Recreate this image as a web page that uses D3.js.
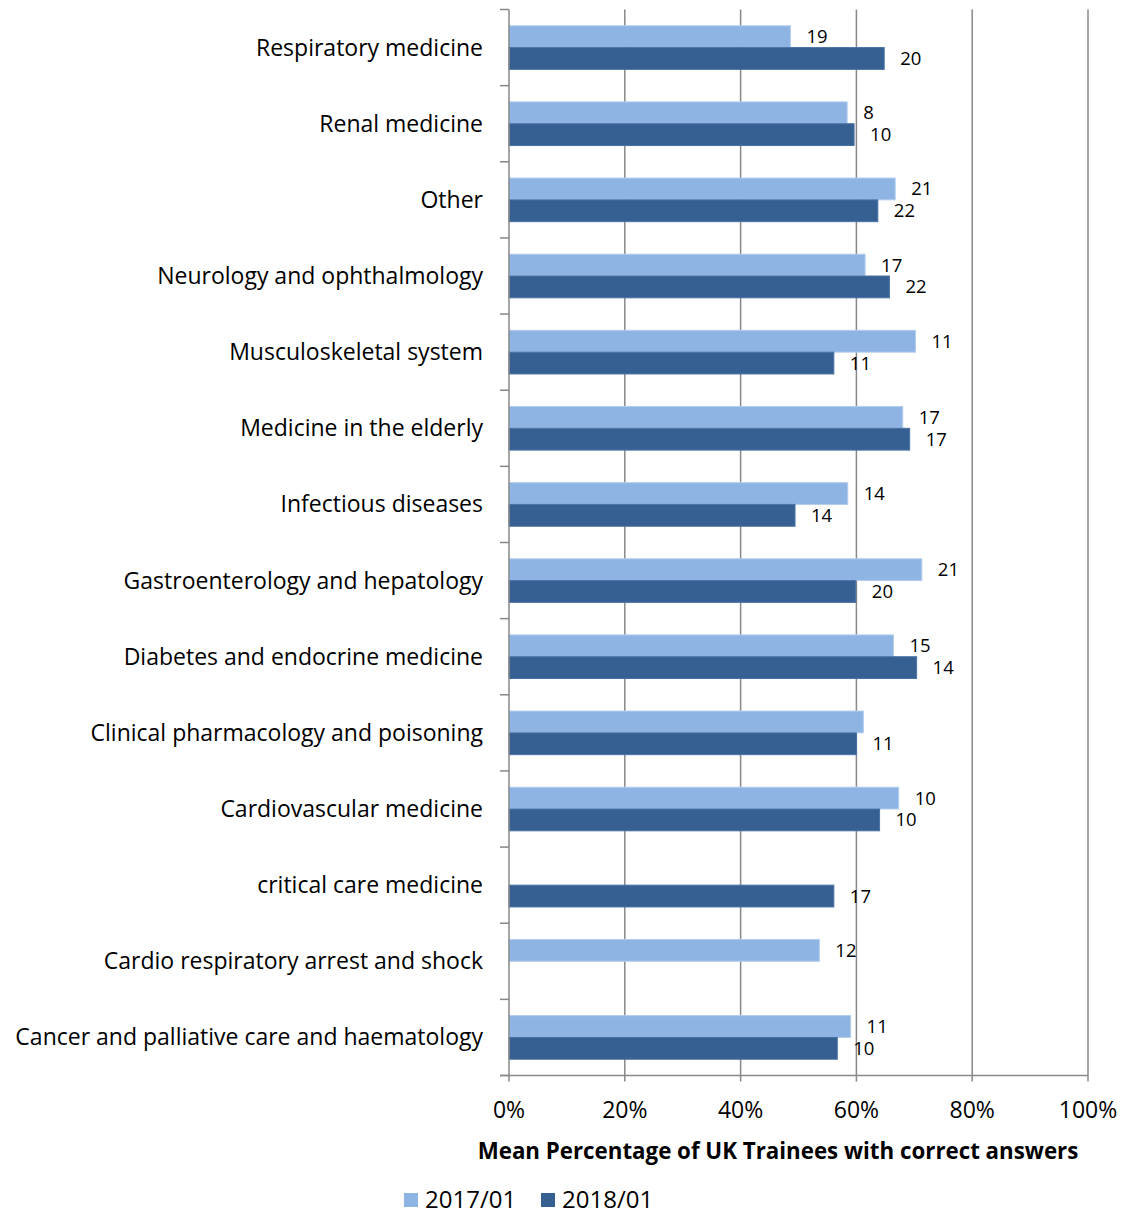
<!DOCTYPE html>
<html>
<head>
<meta charset="utf-8">
<script src="https://cdn.jsdelivr.net/npm/d3@7"></script>
<style>
  body { margin: 0; background: #fff; }
  text { font-family: "Open Sans", sans-serif; fill: #000; }
</style>
</head>
<body>
<div id="chart"></div>
<script>
// categories, top to bottom
var categories = [
    "Respiratory medicine",
    "Renal medicine",
    "Other",
    "Neurology and ophthalmology",
    "Musculoskeletal system",
    "Medicine in the elderly",
    "Infectious diseases",
    "Gastroenterology and hepatology",
    "Diabetes and endocrine medicine",
    "Clinical pharmacology and poisoning",
    "Cardiovascular medicine",
    "critical care medicine",
    "Cardio respiratory arrest and shock",
    "Cancer and palliative care and haematology"
];
var seriesNames = ["2017/01", "2018/01"];
var values2017 = [48.6, 58.4, 66.7, 61.5, 70.2, 68.0, 58.5, 71.3, 66.4, 61.2, 67.3, null, 53.6, 59.0];
var values2018 = [64.8, 59.6, 63.7, 65.7, 56.1, 69.2, 49.4, 59.9, 70.4, 60.0, 64.0, 56.1, null, 56.7];
var labels2017 = [19, 8, 21, 17, 11, 17, 14, 21, 15, null, 10, null, 12, 11];
var labels2018 = [20, 10, 22, 22, 11, 17, 14, 20, 14, 11, 10, 17, null, 10];
var xTicks = [0, 20, 40, 60, 80, 100];
var colors = ["#8EB4E3", "#376092"];

(function () {
    var W = 1128, H = 1217;
    var left = 509, right = 1088, top = 9.5, bottom = 1075.5;

    var svg = d3.select("#chart").append("svg")
        .attr("width", W)
        .attr("height", H);

    var x = d3.scaleLinear().domain([0, 100]).range([left, right]);
    var y = d3.scaleBand().domain(categories).range([top, bottom])
        .paddingInner(0.427).paddingOuter(0.2135);
    var ySub = d3.scaleBand().domain([0, 1]).range([0, y.bandwidth()]);

    // gridlines
    svg.append("g").selectAll("line")
        .data(xTicks.slice(1))
        .join("line")
        .attr("x1", function (d) { return x(d); })
        .attr("x2", function (d) { return x(d); })
        .attr("y1", top)
        .attr("y2", bottom)
        .attr("stroke", "#888")
        .attr("stroke-width", 1.5);

    var rows = categories.map(function (c, i) {
        return [
            { cat: c, s: 0, v: values2017[i], lab: labels2017[i] },
            { cat: c, s: 1, v: values2018[i], lab: labels2018[i] }
        ];
    });
    var items = d3.merge(rows).filter(function (d) { return d.v != null; });

    svg.append("g").selectAll("rect")
        .data(items)
        .join("rect")
        .attr("x", x(0))
        .attr("y", function (d) { return y(d.cat) + ySub(d.s); })
        .attr("width", function (d) { return x(d.v) - x(0); })
        .attr("height", ySub.bandwidth())
        .attr("fill", function (d) { return colors[d.s]; })
        .attr("stroke", function (d) { return d.s ? "#4a72a6" : "#b3cdee"; })
        .attr("stroke-width", 1);

    svg.append("g").selectAll("text")
        .data(items.filter(function (d) { return d.lab != null; }))
        .join("text")
        .attr("x", function (d) { return x(d.v) + 16; })
        .attr("y", function (d) { return y(d.cat) + ySub(d.s) + ySub.bandwidth() / 2; })
        .attr("dy", "0.35em")
        .attr("font-size", 18.5)
        .text(function (d) { return d.lab; });

    // left axis
    var yAxis = svg.append("g");
    yAxis.append("line")
        .attr("x1", left).attr("x2", left)
        .attr("y1", top).attr("y2", bottom)
        .attr("stroke", "#888").attr("stroke-width", 1.5);
    var bounds = d3.range(categories.length + 1).map(function (i) { return top + i * y.step(); });
    yAxis.selectAll(".tk")
        .data(bounds)
        .join("line")
        .attr("class", "tk")
        .attr("x1", left - 9).attr("x2", left)
        .attr("y1", function (d) { return d; })
        .attr("y2", function (d) { return d; })
        .attr("stroke", "#888").attr("stroke-width", 1.5);
    yAxis.selectAll("text")
        .data(categories)
        .join("text")
        .attr("x", 483)
        .attr("y", function (d) { return y(d) + y.bandwidth() / 2; })
        .attr("dy", "0.35em")
        .attr("text-anchor", "end")
        .attr("font-size", 23)
        .text(function (d) { return d; });

    // bottom axis
    var xAxis = svg.append("g");
    xAxis.append("line")
        .attr("x1", left - 9).attr("x2", right)
        .attr("y1", bottom).attr("y2", bottom)
        .attr("stroke", "#888").attr("stroke-width", 1.5);
    xAxis.selectAll(".tk")
        .data(xTicks)
        .join("line")
        .attr("class", "tk")
        .attr("x1", function (d) { return x(d); })
        .attr("x2", function (d) { return x(d); })
        .attr("y1", bottom).attr("y2", bottom + 6)
        .attr("stroke", "#888").attr("stroke-width", 1.5);
    xAxis.selectAll("text")
        .data(xTicks)
        .join("text")
        .attr("x", function (d) { return x(d); })
        .attr("y", 1110)
        .attr("dy", "0.35em")
        .attr("text-anchor", "middle")
        .attr("font-size", 23)
        .text(function (d) { return d + "%"; });

    svg.append("text")
        .attr("x", 778)
        .attr("y", 1151)
        .attr("dy", "0.35em")
        .attr("text-anchor", "middle")
        .attr("font-size", 22.3)
        .attr("font-weight", "bold")
        .text("Mean Percentage of UK Trainees with correct answers");

    // legend
    var legX = [404, 541];
    var leg = svg.append("g").selectAll("g")
        .data(seriesNames)
        .join("g")
        .attr("transform", function (d, i) { return "translate(" + legX[i] + ",1200)"; });
    leg.append("rect")
        .attr("x", 0).attr("y", -7)
        .attr("width", 14).attr("height", 14)
        .attr("fill", function (d, i) { return colors[i]; });
    leg.append("text")
        .attr("x", 21)
        .attr("y", 0)
        .attr("dy", "0.35em")
        .attr("font-size", 24)
        .text(function (d) { return d; });
}());
</script>
</body>
</html>
